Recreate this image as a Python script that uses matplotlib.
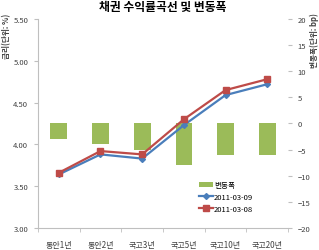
import numpy as np
import matplotlib.pyplot as plt

plt.rcParams['font.family'] = ['Noto Sans CJK KR', 'DejaVu Sans']

# data
categories = ['통안1년', '통안2년', '국고3년', '국고5년', '국고10년', '국고20년']
rate_0309 = [3.64, 3.88, 3.83, 4.23, 4.59, 4.72]
rate_0308 = [3.66, 3.92, 3.88, 4.30, 4.65, 4.78]
change_bp = [-3, -4, -5, -8, -6, -6]

green = '#9BBB59'
blue = '#4A7EBB'
red = '#BE4B48'

fig = plt.figure(figsize=(3.19, 2.51), dpi=100)
ax = fig.add_axes([0.119, 0.088, 0.784, 0.832])
ax2 = ax.twinx()

x = np.arange(len(categories))

# bars on the right axis
bars = ax2.bar(x, change_bp, width=0.4, color=green, label='변동폭')

# lines on the left axis, drawn above bars
l1, = ax.plot(x, rate_0309, color=blue, lw=1.6, marker='D', ms=3, label='2011-03-09')
l2, = ax.plot(x, rate_0308, color=red, lw=1.6, marker='s', ms=4, label='2011-03-08')
ax.set_zorder(ax2.get_zorder() + 1)
ax.patch.set_visible(False)

ax.set_xlim(-0.5, len(categories) - 0.5)
ax.set_ylim(3.0, 5.5)
ax.set_yticks(np.arange(3.0, 5.51, 0.5))
ax.set_yticklabels(['%.2f' % v for v in np.arange(3.0, 5.51, 0.5)])
ax2.set_ylim(-20, 20)
ax2.set_yticks(np.arange(-20, 21, 5))

ax.set_xticks(x)
ax.set_xticklabels(categories)
ax.set_xticks(np.arange(-0.5, len(categories)), minor=True)
ax.tick_params(axis='x', which='major', length=0, pad=9, labelsize=5.8, labelcolor='#404040')
ax.tick_params(axis='x', which='minor', length=3, color='#BFBFBF', direction='out')
ax.tick_params(axis='y', length=3, color='#BFBFBF', labelsize=5.5, labelcolor='#404040', pad=4)
ax2.tick_params(axis='y', length=3, color='#BFBFBF', labelsize=5.5, labelcolor='#404040', pad=4)

for a in (ax, ax2):
    for s in ('top', 'right'):
        a.spines[s].set_visible(False)
ax2.spines['left'].set_visible(False)
ax2.spines['bottom'].set_visible(False)
ax.spines['left'].set_color('#BFBFBF')
ax.spines['bottom'].set_color('#BFBFBF')

ax.set_ylabel('금리(단위: %)', fontsize=5.5, fontweight='bold', color='#404040')
ax2.set_ylabel('변동폭(단위: bp)', fontsize=5.5, fontweight='bold', color='#404040')
ax.yaxis.set_label_coords(-0.105, 0.92)
ax2.yaxis.set_label_coords(1.088, 0.9)

fig.suptitle('채권 수익률곡선 및 변동폭', fontsize=8.5, fontweight='bold', x=0.51, y=0.995)

ax.legend([bars, l1, l2], ['변동폭', '2011-03-09', '2011-03-08'], loc='lower right',
          bbox_to_anchor=(0.88, 0.05), frameon=False, fontsize=5.5, handlelength=1.8,
          handletextpad=0.2, labelspacing=0.5, borderaxespad=0.2)

fig.savefig('out.png', dpi=100)
